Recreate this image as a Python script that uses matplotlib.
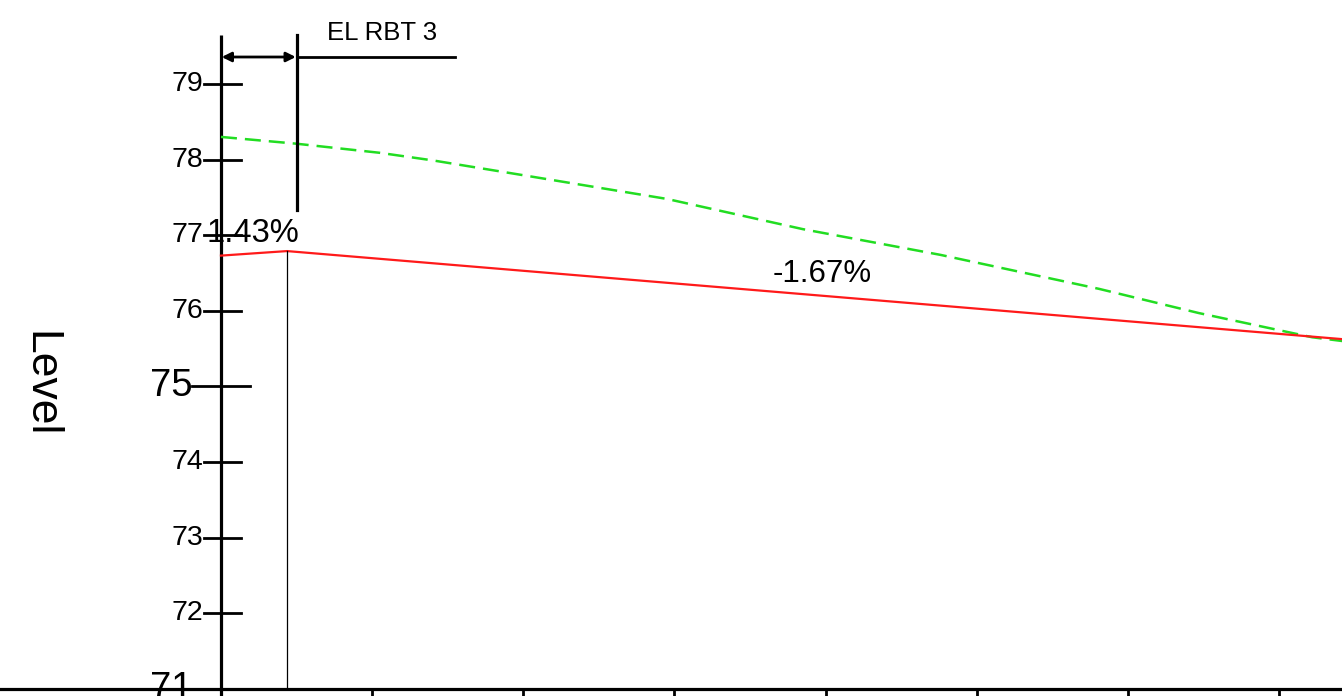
import matplotlib
matplotlib.use('Agg')
import matplotlib.pyplot as plt

plt.rcParams['font.family'] = ['Liberation Sans', 'DejaVu Sans']

# existing ground (green dashed) - chainage (m), level
ground_ch  = [0.0, 5.0, 10.5, 14.0, 19.8, 29.5, 38.5, 47.6, 58.1, 64.7, 72.2, 74.2]
ground_lvl = [78.30, 78.21, 78.09, 77.99, 77.80, 77.48, 77.08, 76.74, 76.29, 75.97, 75.65, 75.60]

# design grade (red) - chainage, level
design_ch  = [0.0, 4.37, 74.2]
design_lvl = [76.73, 76.79, 75.625]

grade_txt = ['1.43%', '-1.67%']
grade_pos = [(2.1, 77.02), (39.8, 76.49)]
grade_size = [23.5, 22.5]

levels = [71, 72, 73, 74, 75, 76, 77, 78, 79]
big_levels = [71, 75]
ch_ticks = [0, 10, 20, 30, 40, 50, 60, 70]

fig = plt.figure(figsize=(13.42, 6.96), dpi=100)
ax = fig.add_axes([0, 0, 1, 1])
ax.set_xlim(-14.62, 74.17)
ax.set_ylim(70.905, 80.111)
ax.axis('off')

# vertical level axis and bottom chainage line
ax.plot([0, 0], [70.8, 79.65], color='black', lw=2.3, solid_capstyle='butt')
ax.plot([-15, 75], [71, 71], color='black', lw=2.3)
for c in ch_ticks:
    ax.plot([c, c], [71, 70.85], color='black', lw=2.0)

# level ticks + labels
for lv in levels:
    if lv in big_levels:
        ax.plot([-1.9, 1.9], [lv, lv], color='black', lw=2.0)
        ax.text(-1.9, lv, str(lv), ha='right', va='center', fontsize=27.5)
    else:
        ax.plot([-1.1, 1.3], [lv, lv], color='black', lw=2.0)
        ax.text(-1.15, lv, str(lv), ha='right', va='center', fontsize=20.5)

ax.text(-11.95, 75.03, 'Level', rotation=270, ha='center', va='center', fontsize=32)

# profiles
ax.plot(ground_ch, ground_lvl, color='#22dd22', lw=1.8, dashes=(6.4, 3.2))
ax.plot(design_ch, design_lvl, color='#ff1a1a', lw=1.6)

# PVI line
ax.plot([design_ch[1], design_ch[1]], [71, design_lvl[1]], color='black', lw=0.9)

for t, (x, y), s in zip(grade_txt, grade_pos, grade_size):
    ax.text(x, y, t, ha='center', va='center', fontsize=s)

# EL RBT 3 marker
x_rbt = 5.0
ax.plot([x_rbt, x_rbt], [77.33, 79.65], color='black', lw=2.3)
ax.plot([x_rbt, 15.5], [79.357, 79.357], color='black', lw=2.0)
ax.annotate('', xy=(0.05, 79.357), xytext=(x_rbt - 0.05, 79.357),
            arrowprops=dict(arrowstyle='<|-|>', color='black', lw=2.0,
                            mutation_scale=14, shrinkA=0, shrinkB=0))
ax.text(10.65, 79.67, 'EL RBT 3', ha='center', va='center', fontsize=18.5)

fig.savefig('out.png', dpi=100, facecolor='white')
